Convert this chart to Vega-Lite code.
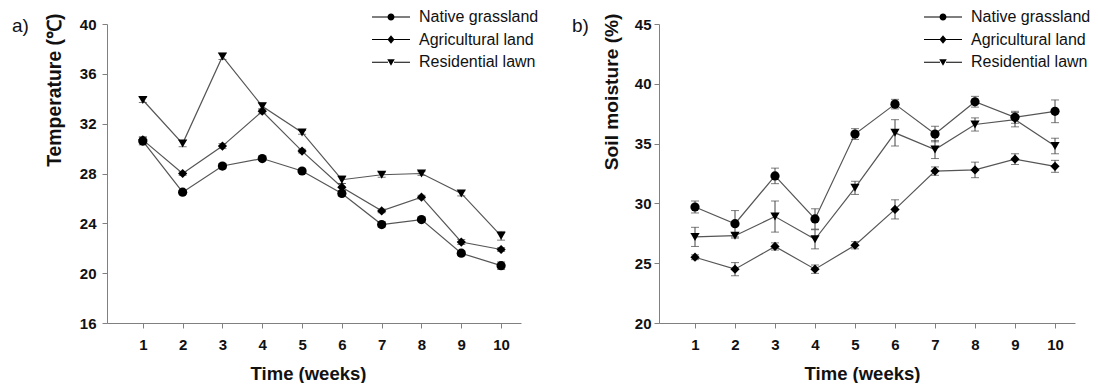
{
  "$schema": "https://vega.github.io/schema/vega-lite/v6.json",
  "background": "white",
  "padding": {"left": 12, "top": 9, "right": 0, "bottom": 0},
  "autosize": {"type": "pad"},
  "spacing": 138,
  "bounds": "flush",
  "config": {
    "view": {"stroke": null},
    "font": "Liberation Sans",
    "axis": {
      "domainColor": "#808080", "tickColor": "#808080", "tickSize": 5, "domainWidth": 1, "tickWidth": 1,
      "labelFont": "Liberation Sans", "labelFontWeight": "bold", "labelFontSize": 15, "labelColor": "#111",
      "titleFont": "Liberation Sans", "titleFontWeight": "bold", "titleFontSize": 18.5, "titleColor": "#111",
      "grid": false
    },
    "legend": {
      "orient": "none", "legendX": 276, "legendY": -15, "title": null, "padding": 0,
      "labelFont": "Liberation Sans", "labelFontSize": 16, "labelColor": "#111", "labelOffset": 20,
      "rowPadding": 6.6, "symbolSize": 100, "symbolFillColor": "black", "symbolOpacity": 1
    }
  },
  "resolve": {"scale": {"shape": "independent"}, "legend": {"shape": "independent"}},
  "datasets": {
    "temp": [
      {"week": 1, "site": "Native grassland", "value": 30.6, "err": 0.3},
      {"week": 2, "site": "Native grassland", "value": 26.5, "err": 0.15},
      {"week": 3, "site": "Native grassland", "value": 28.6, "err": 0.2},
      {"week": 4, "site": "Native grassland", "value": 29.2, "err": 0.15},
      {"week": 5, "site": "Native grassland", "value": 28.2, "err": 0.15},
      {"week": 6, "site": "Native grassland", "value": 26.4, "err": 0.2},
      {"week": 7, "site": "Native grassland", "value": 23.9, "err": 0.2},
      {"week": 8, "site": "Native grassland", "value": 24.3, "err": 0.15},
      {"week": 9, "site": "Native grassland", "value": 21.6, "err": 0.2},
      {"week": 10, "site": "Native grassland", "value": 20.6, "err": 0.3},
      {"week": 1, "site": "Agricultural land", "value": 30.7, "err": 0.25},
      {"week": 2, "site": "Agricultural land", "value": 28.0, "err": 0.15},
      {"week": 3, "site": "Agricultural land", "value": 30.2, "err": 0.2},
      {"week": 4, "site": "Agricultural land", "value": 33.0, "err": 0.2},
      {"week": 5, "site": "Agricultural land", "value": 29.8, "err": 0.15},
      {"week": 6, "site": "Agricultural land", "value": 26.9, "err": 0.3},
      {"week": 7, "site": "Agricultural land", "value": 25.0, "err": 0.15},
      {"week": 8, "site": "Agricultural land", "value": 26.1, "err": 0.15},
      {"week": 9, "site": "Agricultural land", "value": 22.5, "err": 0.2},
      {"week": 10, "site": "Agricultural land", "value": 21.9, "err": 0.15},
      {"week": 1, "site": "Residential lawn", "value": 33.9, "err": 0.2},
      {"week": 2, "site": "Residential lawn", "value": 30.4, "err": 0.25},
      {"week": 3, "site": "Residential lawn", "value": 37.4, "err": 0.25},
      {"week": 4, "site": "Residential lawn", "value": 33.4, "err": 0.25},
      {"week": 5, "site": "Residential lawn", "value": 31.3, "err": 0.15},
      {"week": 6, "site": "Residential lawn", "value": 27.5, "err": 0.3},
      {"week": 7, "site": "Residential lawn", "value": 27.9, "err": 0.2},
      {"week": 8, "site": "Residential lawn", "value": 28.0, "err": 0.15},
      {"week": 9, "site": "Residential lawn", "value": 26.4, "err": 0.2},
      {"week": 10, "site": "Residential lawn", "value": 23.0, "err": 0.35}
    ],
    "moist": [
      {"week": 1, "site": "Native grassland", "value": 29.7, "err": 0.5},
      {"week": 2, "site": "Native grassland", "value": 28.3, "err": 1.1},
      {"week": 3, "site": "Native grassland", "value": 32.3, "err": 0.65},
      {"week": 4, "site": "Native grassland", "value": 28.7, "err": 0.85},
      {"week": 5, "site": "Native grassland", "value": 35.8, "err": 0.45},
      {"week": 6, "site": "Native grassland", "value": 38.3, "err": 0.4},
      {"week": 7, "site": "Native grassland", "value": 35.8, "err": 0.65},
      {"week": 8, "site": "Native grassland", "value": 38.5, "err": 0.45},
      {"week": 9, "site": "Native grassland", "value": 37.2, "err": 0.5},
      {"week": 10, "site": "Native grassland", "value": 37.7, "err": 0.95},
      {"week": 1, "site": "Agricultural land", "value": 25.5, "err": 0.2},
      {"week": 2, "site": "Agricultural land", "value": 24.5, "err": 0.55},
      {"week": 3, "site": "Agricultural land", "value": 26.4, "err": 0.3},
      {"week": 4, "site": "Agricultural land", "value": 24.5, "err": 0.35},
      {"week": 5, "site": "Agricultural land", "value": 26.5, "err": 0.3},
      {"week": 6, "site": "Agricultural land", "value": 29.5, "err": 0.8},
      {"week": 7, "site": "Agricultural land", "value": 32.7, "err": 0.35},
      {"week": 8, "site": "Agricultural land", "value": 32.8, "err": 0.65},
      {"week": 9, "site": "Agricultural land", "value": 33.7, "err": 0.45},
      {"week": 10, "site": "Agricultural land", "value": 33.1, "err": 0.5},
      {"week": 1, "site": "Residential lawn", "value": 27.2, "err": 0.8},
      {"week": 2, "site": "Residential lawn", "value": 27.3, "err": 0.2},
      {"week": 3, "site": "Residential lawn", "value": 28.9, "err": 1.3},
      {"week": 4, "site": "Residential lawn", "value": 27.0, "err": 0.8},
      {"week": 5, "site": "Residential lawn", "value": 31.3, "err": 0.55},
      {"week": 6, "site": "Residential lawn", "value": 35.9, "err": 1.1},
      {"week": 7, "site": "Residential lawn", "value": 34.5, "err": 0.75},
      {"week": 8, "site": "Residential lawn", "value": 36.6, "err": 0.55},
      {"week": 9, "site": "Residential lawn", "value": 37.0, "err": 0.6},
      {"week": 10, "site": "Residential lawn", "value": 34.8, "err": 0.65}
    ]
  },
  "hconcat": [
    {
      "width": 414, "height": 299,
      "title": {"text": "a)", "anchor": "start", "frame": "group", "dx": -95, "dy": 36, "offset": 0, "baseline": "middle", "fontSize": 19, "fontWeight": "normal", "font": "Liberation Sans", "color": "#111"},
      "data": {"name": "temp"},
      "resolve": {"scale": {"shape": "independent"}},
      "encoding": {
        "x": {"field": "week", "type": "quantitative", "scale": {"domain": [0.1, 10.5], "nice": false, "zero": false},
              "axis": {"values": [1, 2, 3, 4, 5, 6, 7, 8, 9, 10], "title": "Time (weeks)", "labelPadding": 9, "titlePadding": 12, "titleX": 201, "labelFlush": false}},
        "y": {"field": "value", "type": "quantitative", "scale": {"domain": [16, 40], "nice": false, "zero": false},
              "axis": {"values": [16, 20, 24, 28, 32, 36, 40], "title": "Temperature (℃)", "labelPadding": 6, "titleFontSize": 19.4, "titleX": -53, "titleY": -11, "titleAlign": "right", "titleBaseline": "middle", "titleAngle": -90}}
      },
      "layer": [
        {"mark": {"type": "line", "color": "#555", "strokeWidth": 1.2}, "encoding": {"detail": {"field": "site"}}},
        {"mark": {"type": "errorbar", "ticks": {"size": 8}, "color": "#444", "thickness": 1}, "encoding": {"yError": {"field": "err"}}},
        {"mark": {"type": "point", "filled": true, "color": "black", "size": 85, "opacity": 1},
         "encoding": {"shape": {"field": "site", "type": "nominal", "legend": null,
            "scale": {"domain": ["Native grassland", "Agricultural land", "Residential lawn"], "range": ["circle", "diamond", "triangle-down"]}}}},
        {"transform": [{"filter": "false"}],
         "mark": {"type": "point", "filled": true, "color": "black", "size": 100, "opacity": 1},
         "encoding": {"shape": {"field": "site", "type": "nominal",
            "scale": {"domain": ["Native grassland", "Agricultural land", "Residential lawn"],
                      "range": ["M-3.8,-0.1H-0.6V0.1H-3.8ZM0.6,-0.1H3.8V0.1H0.6ZM0.7,0C0.7,0.387,0.387,0.7,0,0.7C-0.387,0.7,-0.7,0.387,-0.7,0C-0.7,-0.387,-0.387,-0.7,0,-0.7C0.387,-0.7,0.7,-0.387,0.7,0Z", "M-3.8,-0.1H-0.6V0.1H-3.8ZM0.6,-0.1H3.8V0.1H0.6ZM0,-0.85L0.7,0L0,0.85L-0.7,0Z", "M-3.8,-0.1H-0.6V0.1H-3.8ZM0.6,-0.1H3.8V0.1H0.6ZM-0.75,-0.6L0.75,-0.6L0,0.7Z"]}}}}
      ]
    },
    {
      "width": 416, "height": 299,
      "title": {"text": "b)", "anchor": "start", "frame": "group", "dx": -87, "dy": 36, "offset": 0, "baseline": "middle", "fontSize": 19, "fontWeight": "normal", "font": "Liberation Sans", "color": "#111"},
      "data": {"name": "moist"},
      "resolve": {"scale": {"shape": "independent"}},
      "encoding": {
        "x": {"field": "week", "type": "quantitative", "scale": {"domain": [0.1, 10.5], "nice": false, "zero": false},
              "axis": {"values": [1, 2, 3, 4, 5, 6, 7, 8, 9, 10], "title": "Time (weeks)", "labelPadding": 9, "titlePadding": 12, "titleX": 203, "labelFlush": false}},
        "y": {"field": "value", "type": "quantitative", "scale": {"domain": [20, 45], "nice": false, "zero": false},
              "axis": {"values": [20, 25, 30, 35, 40, 45], "title": "Soil moisture (%)", "labelPadding": 3, "titleFontSize": 19.2, "titleX": -48, "titleY": -11, "titleAlign": "right", "titleBaseline": "middle", "titleAngle": -90}}
      },
      "layer": [
        {"mark": {"type": "line", "color": "#555", "strokeWidth": 1.2}, "encoding": {"detail": {"field": "site"}}},
        {"mark": {"type": "errorbar", "ticks": {"size": 8}, "color": "#444", "thickness": 1}, "encoding": {"yError": {"field": "err"}}},
        {"mark": {"type": "point", "filled": true, "color": "black", "size": 85, "opacity": 1},
         "encoding": {"shape": {"field": "site", "type": "nominal", "legend": null,
            "scale": {"domain": ["Native grassland", "Agricultural land", "Residential lawn"], "range": ["circle", "diamond", "triangle-down"]}}}},
        {"transform": [{"filter": "false"}],
         "mark": {"type": "point", "filled": true, "color": "black", "size": 100, "opacity": 1},
         "encoding": {"shape": {"field": "site", "type": "nominal",
            "scale": {"domain": ["Native grassland", "Agricultural land", "Residential lawn"],
                      "range": ["M-3.8,-0.1H-0.6V0.1H-3.8ZM0.6,-0.1H3.8V0.1H0.6ZM0.7,0C0.7,0.387,0.387,0.7,0,0.7C-0.387,0.7,-0.7,0.387,-0.7,0C-0.7,-0.387,-0.387,-0.7,0,-0.7C0.387,-0.7,0.7,-0.387,0.7,0Z", "M-3.8,-0.1H-0.6V0.1H-3.8ZM0.6,-0.1H3.8V0.1H0.6ZM0,-0.85L0.7,0L0,0.85L-0.7,0Z", "M-3.8,-0.1H-0.6V0.1H-3.8ZM0.6,-0.1H3.8V0.1H0.6ZM-0.75,-0.6L0.75,-0.6L0,0.7Z"]}}}}
      ]
    }
  ]
}
